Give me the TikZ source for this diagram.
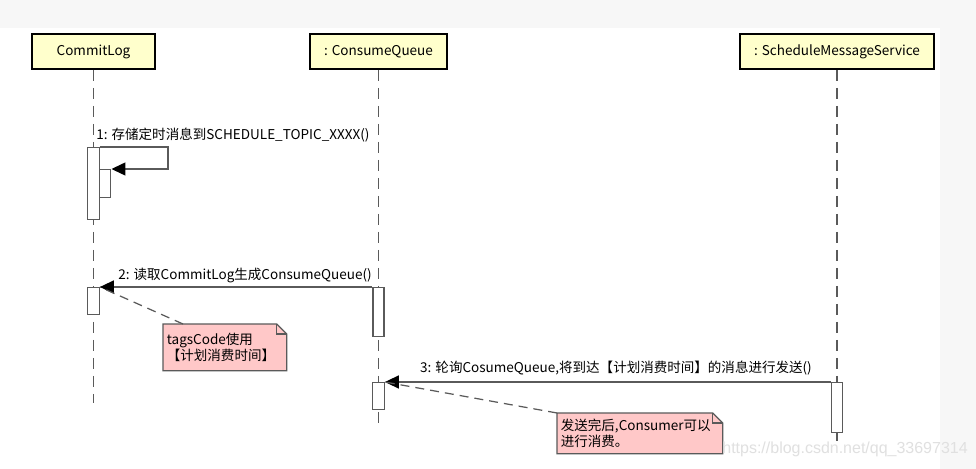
\documentclass[tikz,border=0pt]{standalone}
\usepackage{fontspec}
\setmainfont{Noto Sans CJK SC}
\newfontfamily\urlfont{Liberation Sans}
\usetikzlibrary{calc}
\usetikzlibrary{positioning}
\usetikzlibrary{arrows.meta}
\definecolor{objyellow}{HTML}{FFFFCC}
\definecolor{notepink}{HTML}{FFC8C8}
\definecolor{linegray}{HTML}{5A5A5A}
\definecolor{pagegray}{HTML}{F7F7F7}
\tikzstyle{objnode} = [draw=black, line width=1.1pt, fill=objyellow, minimum height=0.7cm, inner sep=0pt]
\tikzstyle{actnode} = [draw=linegray, line width=0.7pt, fill=white, anchor=north, minimum width=0.23cm, inner sep=0pt]
\tikzstyle{lifeline} = [draw=linegray, line width=1pt, dash pattern=on 0.22cm off 0.14cm]
\tikzstyle{msgline} = [draw=linegray, line width=0.8pt, -{Triangle[length=0.28cm, width=0.26cm, color=black]}]
\tikzstyle{msglabel} = [inner sep=0pt]
\tikzstyle{notenode} = [anchor=north west, inner sep=0pt]
\tikzstyle{notebody} = [draw=linegray, line width=0.7pt, fill=notepink]
\tikzstyle{notetext} = [anchor=west, align=left, inner sep=2pt]
\tikzstyle{noteline} = [draw=linegray, line width=0.7pt, dash pattern=on 0.18cm off 0.12cm]

\begin{document}
\begin{tikzpicture}[x=0.02cm, y=-0.02cm, font=\fontsize{7.7}{9.5}\selectfont]
    \useasboundingbox (0,0) rectangle (976,469);
    \fill[pagegray] (0,0) rectangle (976,469);
    \fill[white] (0,28) rectangle (940,469);

    % lifeline heads
    \node[objnode, minimum width=2.46cm] (commitlog) at (93.5,51.5) {CommitLog};
    \node[objnode, minimum width=2.74cm] (consumeq) at (378.5,51.5) {: ConsumeQueue};
    \node[objnode, minimum width=3.88cm] (schedsvc) at (837,51.5) {: ScheduleMessageService};

    \coordinate (commitlog_end) at (commitlog.south |- 0,403);
    \coordinate (consumeq_end) at (consumeq.south |- 0,423);
    \coordinate (schedsvc_end) at (schedsvc.south |- 0,443);
    \draw[lifeline] (commitlog.south) -- (commitlog_end);
    \draw[lifeline] (consumeq.south) -- (consumeq_end);
    \draw[lifeline] (schedsvc.south) -- (schedsvc_end);

    % activations
    \node[actnode, minimum height=1.44cm] (cl_act1) at (93.5,147) {};
    \node[actnode, minimum width=0.22cm, minimum height=0.56cm] (cl_act1b) at ($(cl_act1.north east)+(5.5,22)$) {};
    \node[actnode, minimum height=0.54cm] (cl_act2) at (93.5,287) {};
    \node[actnode, minimum width=0.22cm, minimum height=0.98cm] (cq_act1) at (378.5,287) {};
    \node[actnode, minimum height=0.54cm] (cq_act2) at (378.5,382) {};
    \node[actnode, minimum height=1.0cm] (ss_act) at (837,382) {};

    % messages
    \draw[msgline] (cl_act1.north east) -- ++(68,0) |- (cl_act1b.north east);
    \node[msglabel, anchor=base west] (msg1) at (96,139.5) {1: 存储定时消息到SCHEDULE\_TOPIC\_XXXX()};
    \draw[msgline] (cq_act1.north west) -- (cl_act2.north east);
    \node[msglabel, anchor=base] (msg2) at (245,279.5) {2: 读取CommitLog生成ConsumeQueue()};
    \draw[msgline] (ss_act.north west) -- (cq_act2.north east);
    \node[msglabel, anchor=base] (msg3) at (616,372.5) {3: 轮询CosumeQueue,将到达【计划消费时间】的消息进行发送()};

    % notes
    \node[notenode, minimum width=2.46cm, minimum height=0.92cm] (note1) at (163,324) {};
    \draw[notebody] (note1.north west) -- ($(note1.north east)+(-10,0)$) -- ($(note1.north east)+(0,10)$) -- (note1.south east) -- (note1.south west) -- cycle;
    \draw[notebody, fill=none] ($(note1.north east)+(-10,0)$) |- ($(note1.north east)+(0,10)$);
    \node[notetext] (note1txt) at (note1.west) {tagsCode使用\\【计划消费时间】};
    \draw[noteline] ($(note1.north west)+(20,0)$) -- (cl_act2.north east);

    \node[notenode, minimum width=3.3cm, minimum height=0.8cm] (note2) at (557,413) {};
    \draw[notebody] (note2.north west) -- ($(note2.north east)+(-10,0)$) -- ($(note2.north east)+(0,10)$) -- (note2.south east) -- (note2.south west) -- cycle;
    \draw[notebody, fill=none] ($(note2.north east)+(-10,0)$) |- ($(note2.north east)+(0,10)$);
    \node[notetext] (note2txt) at (note2.west) {发送完后,Consumer可以\\进行消费。};
    \draw[noteline] (note2.north west) -- (cq_act2.north east);

    \node[text=black!12, anchor=west, inner sep=0pt] (wmark) at (722,449) {\urlfont\fontsize{9.1}{10}\selectfont https://blog.csdn.net/qq\_33697314};
\end{tikzpicture}
\end{document}
